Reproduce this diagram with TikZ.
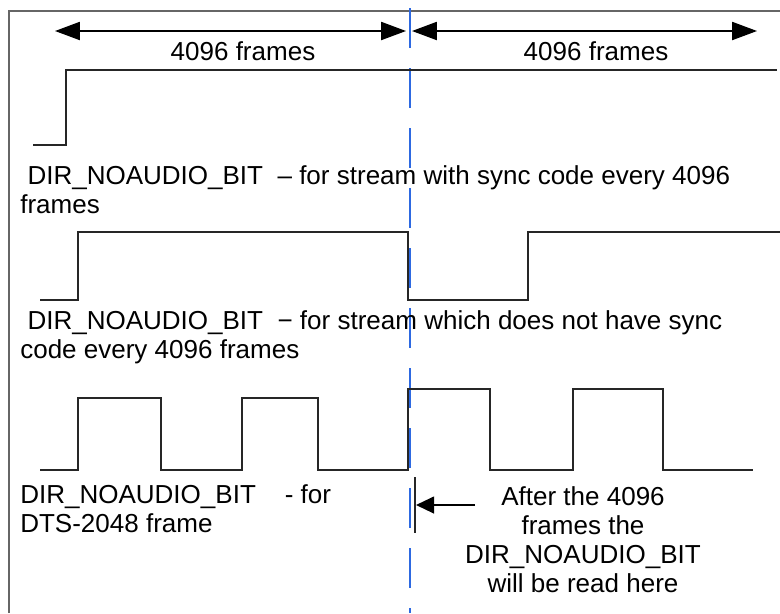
\documentclass[tikz,border=0pt]{standalone}
\usepackage{fontspec}
\setmainfont{Liberation Sans}
\usetikzlibrary{arrows.meta}
\definecolor{guideblue}{RGB}{45,105,225}
\begin{document}
\begin{tikzpicture}[x=0.025cm,y=-0.025cm,
    sig/.style={line width=1.4pt,black!85},
    dim/.style={line width=1.3pt,{Triangle[length=0.62cm,width=0.45cm]}-{Triangle[length=0.62cm,width=0.45cm]}},
    txt/.style={inner sep=0pt,font=\fontsize{18.5}{20.6}\selectfont},
    lbl/.style={txt,anchor=base west,align=left}]
    \useasboundingbox (0,0) rectangle (780,613);
    % frame and guide line
    \draw[line width=1.5pt,black!60] (9,613) -- (9,11) -- (780,11);
    \draw[guideblue,line width=1.2pt,dash pattern=on 1cm off 0.5cm] (410,8) -- (410,613);
    % spans
    \coordinate (spanA0) at (55,31);
    \coordinate (spanA1) at (406,31);
    \coordinate (spanB0) at (412,31);
    \coordinate (spanB1) at (757,31);
    \draw[dim] (spanA0) -- (spanA1);
    \draw[dim] (spanB0) -- (spanB1);
    \node[txt,anchor=base] (spanAlbl) at (243,60) {4096 frames};
    \node[txt,anchor=base] (spanBlbl) at (596,60) {4096 frames};
    % waveforms
    \draw[sig] (33,145) -- (66,145) -- (66,70) -- (777,70);
    \draw[sig] (40,300) -- (78,300) -- (78,232) -- (408,232) -- (408,300) -- (528,300) -- (528,232) -- (780,232);
    \draw[sig] (40,470) -- (78,470) -- (78,398) -- (161,398) -- (161,470) -- (242,470) -- (242,398)
        -- (318,398) -- (318,470) -- (408,470) -- (408,389) -- (490,389) -- (490,470) -- (573,470)
        -- (573,389) -- (663,389) -- (663,470) -- (753,470);
    % labels (base = last line)
    \node[lbl] (syncLbl) at (20,213) {~DIR\_NOAUDIO\_BIT~~– for stream with sync code every 4096\\frames};
    \node[lbl] (nosyncLbl) at (20,358) {~DIR\_NOAUDIO\_BIT~~− for stream which does not have sync\\code every 4096 frames};
    \node[lbl] (dtsLbl) at (20,532) {DIR\_NOAUDIO\_BIT~~~~- for\\DTS-2048 frame};
    % read point
    \coordinate (markTop) at (415,477);
    \coordinate (markBot) at (415,533);
    \coordinate (markMid) at (416,505);
    \coordinate (ptrTail) at (475,505);
    \draw[line width=1.2pt,black!85] (markTop) -- (markBot);
    \draw[line width=1.2pt,-{Triangle[length=0.45cm,width=0.42cm]}] (ptrTail) -- (markMid);
    \node[txt,anchor=base,align=center] (readLbl) at (583,592) {After the 4096\\frames the\\DIR\_NOAUDIO\_BIT\\will be read here};
\end{tikzpicture}
\end{document}
